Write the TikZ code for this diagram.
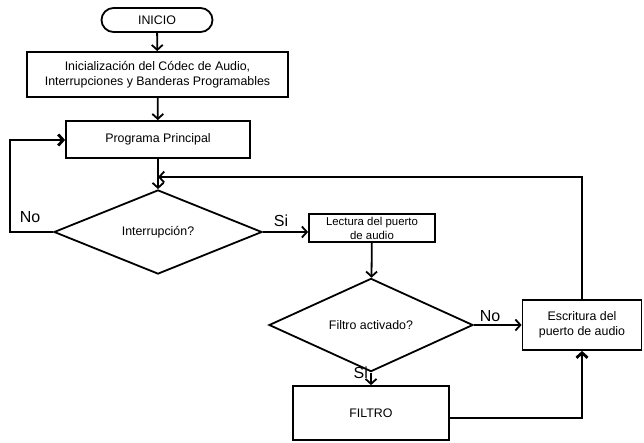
\documentclass[tikz,border=0pt]{standalone}
\usepackage{fontspec}
\setmainfont{Liberation Sans}
\usetikzlibrary{
  arrows.meta,
  positioning,
  shapes.geometric,
  shapes.misc
}
\tikzset{
  every node/.style={font=\fontsize{12.4}{15}\selectfont, text=black},
  branch label/.style={font=\fontsize{16}{18}\selectfont, inner sep=0pt},
  terminal/.style={
    rounded rectangle,
    draw,
    line width=1.8pt,
    minimum width=111pt,
    minimum height=24pt,
    inner sep=0pt
  },
  process/.style={
    rectangle,
    draw,
    line width=1.8pt,
    inner sep=0pt,
    align=center
  },
  decision/.style={
    diamond,
    draw,
    line width=1.8pt,
    inner sep=0pt,
    minimum height=74pt
  },
  link/.style={
    -{Straight Barb[length=5pt,width=11pt]},
    line width=1.8pt
  },
  heavylink/.style={
    link,
    line width=2.8pt
  }
}

\begin{document}
\begin{tikzpicture}[x=1pt, y=-1pt]
  \useasboundingbox (0,0) rectangle (644,442);

  \node[terminal] (start) at (157,20) {INICIO};
  \node[process, minimum width=261pt, minimum height=45pt] (init) at (157.5,74.5) {
    Inicialización del Códec de Audio,\\
    Interrupciones y Banderas Programables
  };
  \node[process, minimum width=184pt, minimum height=37pt] (main) at (158,139.5) {Programa Principal};
  \node[decision, minimum width=208pt] (irq) at (158,232) {Interrupción?};
  \node[process, minimum width=126pt, minimum height=28pt,
        font=\fontsize{11.4}{14}\selectfont] (read) at (372,228) {
    Lectura del puerto\\
    de audio
  };
  \node[decision, minimum width=204pt] (flt) at (371,325) {Filtro activado?};
  \node[process, minimum width=119pt, minimum height=50pt] (write) at (582,325) {
    Escritura del\\
    puerto de audio
  };
  \node[process, minimum width=156pt, minimum height=54pt] (filter) at (371,413) {FILTRO};

  \coordinate (back) at (158,177);
  \coordinate (loopL) at (10,232);
  \coordinate (loopT) at (10,140);
  \coordinate (filterR) at (582,418);

  \draw[link] (start) -- (init);
  \draw[link] (init) -- (main);
  \draw[link] (main) -- (irq);
  \draw[link] (irq.east) -- (irq.east -| read.west);
  \draw[link] (read) -- (flt);
  \draw[link] (flt) -- (write);
  \draw[link] (flt) -- (filter);
  \draw[link] (write.north) |- (back);
  \draw[heavylink] (irq.west) -- (loopL) -- (loopT) -- (loopT -| main.west);
  \draw[heavylink] (filter.east |- filterR) -- (filterR) -- (write.south);

  \node[branch label] (noIrq) at (30,217) {No};
  \node[branch label] (siIrq) at (281,221) {Si};
  \node[branch label] (noFlt) at (490,316) {No};
  \node[branch label, anchor=east] (siFlt) at (368,373) {Si};
\end{tikzpicture}
\end{document}
